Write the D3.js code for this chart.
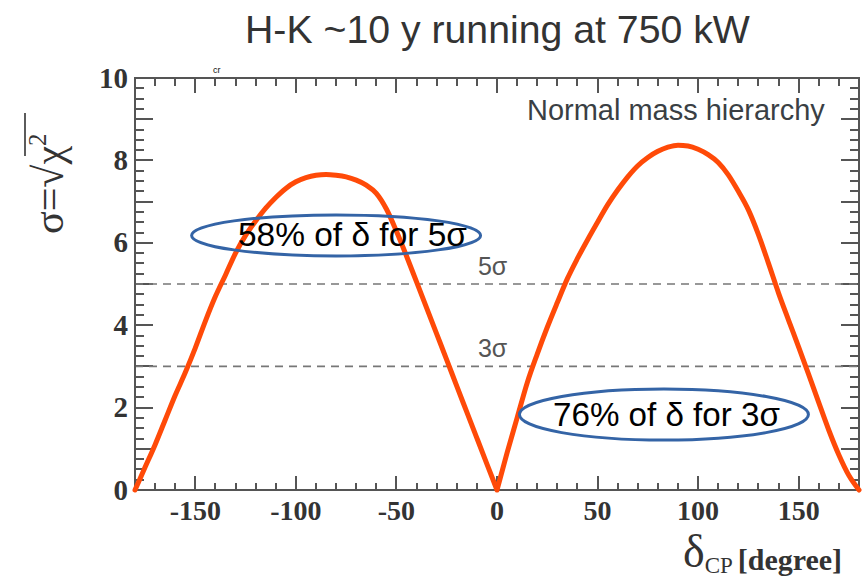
<!doctype html>
<html>
  <head>
    <meta charset="utf-8">
    <script src="https://d3js.org/d3.v7.min.js"></script>
  </head>
  <body style="margin:0">
    <svg></svg>
    <script type="text/javascript">
      var w = 862,
        h = 581;

      // delta_CP (degree) and sigma = sqrt(chi2)
      var deltaLeft = [-180, -175, -170, -165, -160, -155, -150, -145, -140, -135, -130, -125, -120,
        -115, -110, -105, -100, -95, -90, -85, -80, -75, -70, -65, -60, -55, -50, -45, -40, -35,
        -30, -25, -20, -15, -10, -5, 0
      ];
      var sigmaLeft = [0, 0.55, 1.1, 1.7, 2.3, 2.85, 3.45, 4.1, 4.7, 5.22, 5.75, 6.18, 6.53,
        6.84, 7.1, 7.32, 7.48, 7.58, 7.64, 7.66, 7.64, 7.6, 7.52, 7.4, 7.2, 6.82, 6.28, 5.68, 5.05, 4.42,
        3.79, 3.16, 2.52, 1.89, 1.26, 0.63, 0
      ];
      var deltaRight = [0, 5, 10, 15, 20, 25, 30, 35, 40, 45, 50, 55, 60, 65, 70, 75, 80, 85, 90,
        95, 100, 105, 110, 115, 120, 125, 130, 135, 140, 145, 150, 155, 160, 165, 170, 175, 180
      ];
      var sigmaRight = [0, 0.9, 1.75, 2.6, 3.3, 3.95, 4.55, 5.13, 5.62, 6.07, 6.5, 6.92, 7.28, 7.6,
        7.87, 8.07, 8.22, 8.32, 8.37, 8.35, 8.27, 8.14, 7.95, 7.65, 7.25, 6.8, 6.2, 5.5, 4.78,
        4.12, 3.47, 2.8, 2.12, 1.45, 0.85, 0.35, 0
      ];

      var xTicks = [-150, -100, -50, 0, 50, 100, 150];
      var yTicks = [0, 2, 4, 6, 8, 10];
      var sigmaLevels = [5, 3];
      var sigmaLevelLabels = ['5\u03c3', '3\u03c3'];

      var title = 'H-K ~10 y running at 750 kW';
      var legendText = 'Normal mass hierarchy';
      // callouts: centre in data coords, text
      var noteDelta = [-80, 83];
      var noteSigma = [6.18, 1.83];
      var noteText = ['58% of \u03b4 for 5\u03c3', '76% of \u03b4 for 3\u03c3'];

      var serif = '"Liberation Serif", "DejaVu Serif", serif';
      var sans = '"Liberation Sans", Arial, sans-serif';

      var svg = d3.select('svg')
        .attr('width', w)
        .attr('height', h);

      var x = d3.scaleLinear().domain([-180, 180]).range([135, 859]);
      var y = d3.scaleLinear().domain([0, 10]).range([490, 78]);

      // fit a text element to a given width by changing its font size
      function fit(sel, width) {
        var fs = parseFloat(sel.attr('font-size'));
        var len = sel.node().getComputedTextLength();
        sel.attr('font-size', fs * width / len);
      }

      // tick marks on all four sides, pointing into the frame, drawn as thin filled rects
      var xMinor = d3.range(-170, 180, 10);
      var yMinor = d3.range(0.25, 10, 0.25);
      var yMajor = d3.range(1, 10, 1);
      var tickSets = [
        { axis: 'x', vals: xMinor, at: y(0), len: -7 },
        { axis: 'x', vals: xTicks, at: y(0), len: -14 },
        { axis: 'x', vals: xMinor, at: y(10), len: 8 },
        { axis: 'x', vals: xTicks, at: y(10), len: 15 },
        { axis: 'y', vals: yMinor, at: x(-180), len: 9 },
        { axis: 'y', vals: yMajor, at: x(-180), len: 18 },
        { axis: 'y', vals: yMinor, at: x(180), len: -9 },
        { axis: 'y', vals: yMajor, at: x(180), len: -18 }
      ];
      var tickData = [];
      tickSets.forEach(function(t) {
        t.vals.forEach(function(v) {
          tickData.push({ axis: t.axis, v: v, at: t.at, len: t.len });
        });
      });
      svg.selectAll('rect.tick')
        .data(tickData)
        .enter()
        .append('rect')
        .attr('class', 'tick')
        .attr('x', function(t) {
          if (t.axis === 'x') return Math.round(x(t.v)) - 1;
          return Math.min(t.at, t.at + t.len);
        })
        .attr('y', function(t) {
          if (t.axis === 'x') return Math.min(t.at, t.at + t.len);
          return Math.round(y(t.v)) - 1;
        })
        .attr('width', function(t) { return t.axis === 'x' ? 2 : Math.abs(t.len); })
        .attr('height', function(t) { return t.axis === 'x' ? Math.abs(t.len) : 2; })
        .attr('fill', '#555');

      // dashed 3 and 5 sigma lines
      svg.selectAll('line.level')
        .data(sigmaLevels)
        .enter()
        .append('line')
        .attr('class', 'level')
        .attr('x1', x(-180))
        .attr('x2', x(180))
        .attr('y1', function(d) { return y(d); })
        .attr('y2', function(d) { return y(d); })
        .attr('stroke', '#777')
        .attr('stroke-width', 1.6)
        .attr('stroke-dasharray', '8,6');

      svg.selectAll('text.level')
        .data(sigmaLevels)
        .enter()
        .append('text')
        .attr('class', 'level')
        .attr('x', x(-9.5))
        .attr('y', function(d) { return y(d) - 9; })
        .attr('font-family', sans)
        .attr('font-size', 25)
        .attr('fill', '#555')
        .text(function(d, i) { return sigmaLevelLabels[i]; });

      // tick labels
      svg.selectAll('text.xlab')
        .data(xTicks)
        .enter()
        .append('text')
        .attr('class', 'xlab')
        .attr('x', function(d) { return x(d); })
        .attr('y', 520)
        .attr('text-anchor', 'middle')
        .attr('font-family', serif)
        .attr('font-weight', 'bold')
        .attr('font-size', 28)
        .attr('fill', '#333')
        .text(function(d) { return String(d); });
      svg.selectAll('text.ylab')
        .data(yTicks)
        .enter()
        .append('text')
        .attr('class', 'ylab')
        .attr('x', 128)
        .attr('y', function(d) { return y(d) + 9.5; })
        .attr('text-anchor', 'end')
        .attr('font-family', serif)
        .attr('font-weight', 'bold')
        .attr('font-size', 29)
        .attr('fill', '#333')
        .text(function(d) { return String(d); });

      // frame
      svg.append('rect')
        .attr('x', x(-180))
        .attr('y', y(10))
        .attr('width', x(180) - x(-180))
        .attr('height', y(0) - y(10))
        .attr('fill', 'none')
        .attr('stroke', '#555')
        .attr('stroke-width', 2);

      // sensitivity curve, two humps so the dip at 0 stays sharp
      var curve = d3.line()
        .x(function(d) { return x(d[0]); })
        .y(function(d) { return y(d[1]); })
        .curve(d3.curveMonotoneX);
      var humps = [d3.zip(deltaLeft, sigmaLeft), d3.zip(deltaRight, sigmaRight)];
      svg.append('path')
        .attr('d', curve(humps[0]) + curve(humps[1]))
        .attr('fill', 'none')
        .attr('stroke', '#ff4a08')
        .attr('stroke-width', 5)
        .attr('stroke-linejoin', 'round')
        .attr('stroke-linecap', 'round');

      // legend text
      svg.append('text')
        .attr('x', 527)
        .attr('y', 120)
        .attr('font-family', sans)
        .attr('font-size', 25)
        .attr('fill', '#3a3f44')
        .text(legendText)
        .call(fit, 298);

      // callout ellipses
      var notes = svg.selectAll('g.note')
        .data(noteText)
        .enter()
        .append('g')
        .attr('class', 'note');
      notes.append('ellipse')
        .attr('cx', function(d, i) { return x(noteDelta[i]); })
        .attr('cy', function(d, i) { return y(noteSigma[i]); })
        .attr('rx', 144.5)
        .attr('ry', function(d, i) { return i === 0 ? 20.5 : 25.5; })
        .attr('fill', 'none')
        .attr('stroke', '#3464a6')
        .attr('stroke-width', 3);
      notes.append('text')
        .attr('x', function(d, i) { return i === 0 ? 238 : 553; })
        .attr('y', function(d, i) { return i === 0 ? 246 : 426; })
        .attr('font-family', sans)
        .attr('font-size', 28)
        .attr('fill', '#000')
        .text(function(d) { return d; })
        .each(function(d, i) { fit(d3.select(this), i === 0 ? 229 : 227); });

      // title
      svg.append('text')
        .attr('x', 245)
        .attr('y', 43)
        .attr('font-family', sans)
        .attr('font-size', 32)
        .attr('fill', '#333')
        .text(title)
        .call(fit, 505);

      // scrap of text peeking above the frame
      svg.append('text')
        .attr('x', 213)
        .attr('y', 73)
        .attr('font-family', sans)
        .attr('font-size', 9)
        .attr('fill', '#111')
        .text('cr');

      // y axis title: sigma = sqrt(chi^2), rotated
      var ytitle = svg.append('text')
        .attr('transform', 'translate(63,234) rotate(-90)')
        .attr('font-family', serif)
        .attr('font-size', 42)
        .attr('fill', '#333');
      ytitle.append('tspan').text('\u03c3=\u221a\u03c7');
      ytitle.append('tspan').attr('dy', -17).attr('font-size', 25).text('2');
      svg.append('line')
        .attr('x1', 25).attr('x2', 25)
        .attr('y1', 156).attr('y2', 113)
        .attr('stroke', '#333')
        .attr('stroke-width', 1.6);

      // x axis title: delta_CP [degree]
      var xtitle = svg.append('text')
        .attr('x', 683)
        .attr('y', 567)
        .attr('font-family', serif)
        .attr('fill', '#333');
      xtitle.append('tspan').attr('font-size', 46).text('\u03b4');
      xtitle.append('tspan').attr('dy', 6).attr('font-size', 23).text('CP ');
      xtitle.append('tspan').attr('dy', -3).attr('font-size', 30)
        .attr('font-weight', 'bold').text('[degree]');
    </script>
  </body>
</html>
